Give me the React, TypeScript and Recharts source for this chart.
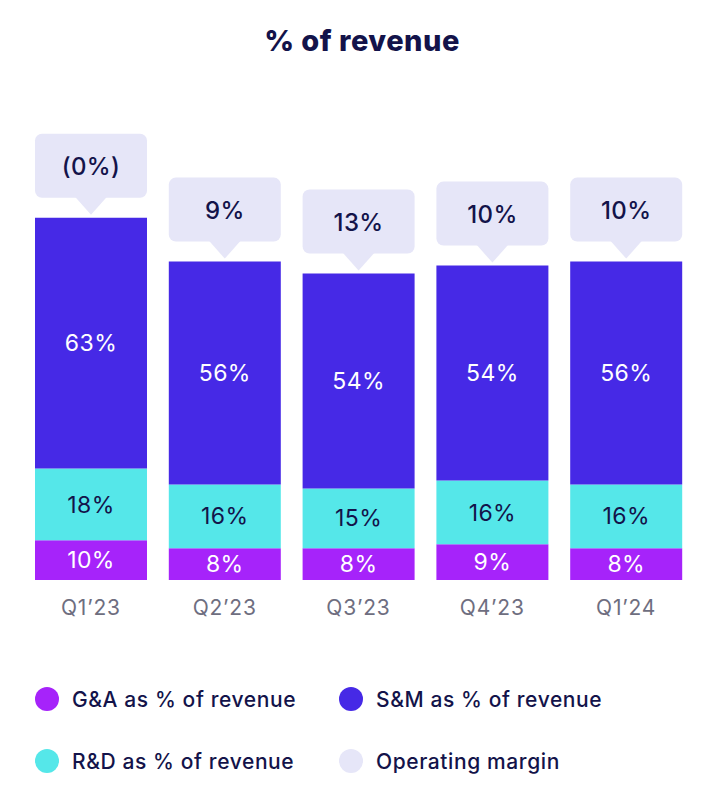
import React from "react";
import { Bar, BarChart, LabelList, XAxis, YAxis } from "recharts";

const quarters = ["Q1\u201923", "Q2\u201923", "Q3\u201923", "Q4\u201923", "Q1\u201924"];
const gaPct = [10, 8, 8, 9, 8];
const rdPct = [18, 16, 15, 16, 16];
const smPct = [63, 56, 54, 54, 56];
const operatingMargin = ["(0%)", "9%", "13%", "10%", "10%"];

const NAVY = "#13134a";
const GA = "#a623fa";
const RD = "#55e7e9";
const SM = "#4629e6";
const MARGIN = "#e6e6f8";
const FONT = "Inter, 'Open Sans', sans-serif";

const data = quarters.map((q, i) => ({
  q,
  ga: gaPct[i],
  rd: rdPct[i],
  sm: smPct[i],
  margin: operatingMargin[i],
}));

const legendItems = [
  { label: "G&A as % of revenue", color: GA },
  { label: "S&M as % of revenue", color: SM },
  { label: "R&D as % of revenue", color: RD },
  { label: "Operating margin", color: MARGIN },
];

// callout bubble drawn above the top (S&M) segment
function Callout(props: any) {
  const { x, y, width, value } = props;
  const cx = x + width / 2;
  const boxBottom = y - 20;
  const boxTop = boxBottom - 64;
  return (
    <g>
      <rect x={x} y={boxTop} width={width} height={64} rx={7} fill={MARGIN} />
      <path
        d={`M${cx - 16},${boxBottom - 1} L${cx},${y - 3} L${cx + 16},${boxBottom - 1} Z`}
        fill={MARGIN}
      />
      <text
        x={cx}
        y={boxTop + 33}
        textAnchor="middle"
        dominantBaseline="central"
        fill={NAVY}
        fontSize={24}
        fontWeight={500}
        letterSpacing={0.4}
        fontFamily={FONT}
      >
        {value}
      </text>
    </g>
  );
}

export default function App() {
  const labelStyle = { fontSize: 23, fontFamily: FONT, letterSpacing: 0.4 };
  return (
    <div
      style={{
        position: "absolute",
        left: 0,
        top: 0,
        width: 724,
        height: 806,
        background: "#fff",
        fontFamily: FONT,
      }}
    >
      <div
        style={{
          position: "absolute",
          top: 23,
          width: 724,
          textAlign: "center",
          fontSize: 29,
          fontWeight: 800,
          letterSpacing: 0.5,
          color: NAVY,
        }}
      >
        % of revenue
      </div>
      <BarChart
        width={724}
        height={640}
        data={data}
        margin={{ top: 182, right: 31, bottom: 0, left: 24 }}
        barSize={112}
      >
        <XAxis
          dataKey="q"
          axisLine={false}
          tickLine={false}
          tickSize={0}
          tickMargin={20}
          height={60}
          tick={{ fill: "#6e6e80", fontSize: 21, fontFamily: FONT, letterSpacing: 0.8 }}
        />
        <YAxis hide domain={[0, 100]} />
        <Bar dataKey="ga" stackId="a" fill={GA} isAnimationActive={false}>
          <LabelList
            dataKey="ga"
            position="center"
            formatter={(v: any) => `${v}%`}
            fill="#fff"
            style={labelStyle}
          />
        </Bar>
        <Bar dataKey="rd" stackId="a" fill={RD} isAnimationActive={false}>
          <LabelList
            dataKey="rd"
            position="center"
            formatter={(v: any) => `${v}%`}
            fill={NAVY}
            style={labelStyle}
          />
        </Bar>
        <Bar dataKey="sm" stackId="a" fill={SM} isAnimationActive={false}>
          <LabelList
            dataKey="sm"
            position="center"
            formatter={(v: any) => `${v}%`}
            fill="#fff"
            style={labelStyle}
          />
          <LabelList dataKey="margin" content={Callout} />
        </Bar>
      </BarChart>
      {legendItems.map((item, i) => (
        <div
          key={item.label}
          style={{
            position: "absolute",
            left: i % 2 === 0 ? 35 : 339,
            top: i < 2 ? 686 : 748,
            display: "flex",
            alignItems: "center",
            height: 26,
            fontSize: 21,
            fontWeight: 500,
            letterSpacing: 0.6,
            color: NAVY,
          }}
        >
          <span
            style={{
              width: 24,
              height: 24,
              borderRadius: 12,
              background: item.color,
              marginRight: 13,
              display: "inline-block",
            }}
          />
          {item.label}
        </div>
      ))}
    </div>
  );
}
